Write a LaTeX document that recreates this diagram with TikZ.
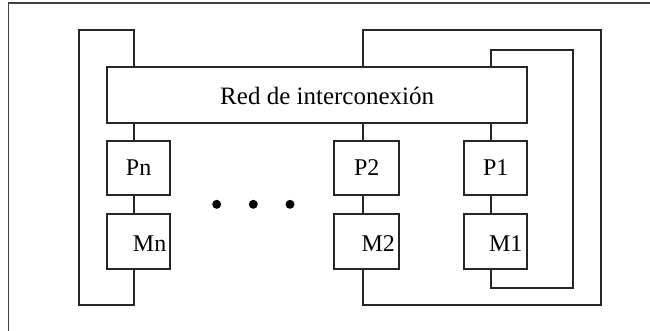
\documentclass[tikz,border=0pt]{standalone}
\usepackage{fontspec}
\setmainfont{Liberation Serif}
\tikzset{
  wire/.style={line width=1.8pt, draw=black!85},
  unit/.style={draw=black!85, line width=1.8pt, rectangle, inner sep=0pt, outer sep=0pt,
               font=\fontsize{24}{28}\selectfont},
  memlabel/.style={font=\fontsize{24}{28}\selectfont, inner sep=0pt, yshift=-2pt},
  dotmark/.style={circle, fill=black, inner sep=0pt, minimum size=9pt},
  frameline/.style={line width=1.6pt, draw=black!75}
}
\begin{document}
\begin{tikzpicture}[x=1pt, y=-1pt]
  \useasboundingbox (0,0) rectangle (650,331);
  % page frame (left and top edges)
  \coordinate (fbl) at (8.5,331);
  \coordinate (ftl) at (8.5,3.3);
  \coordinate (ftr) at (650,3.3);
  \draw[frameline] (fbl) -- (ftl) -- (ftr);

  % interconnection network
  \node[unit, anchor=north west, minimum width=420.3pt, minimum height=55.7pt,
        label={[xshift=10pt, yshift=-1pt, inner sep=0pt, font=\fontsize{25}{30}\selectfont]center:Red de interconexión}]
        (red) at (107,67) {};

  % processors
  \node[unit, anchor=north west, minimum width=63.3pt, minimum height=54pt] (pn) at (107,140.7) {Pn};
  \node[unit, anchor=north west, minimum width=65pt,   minimum height=54pt] (p2) at (334.3,140.7) {P2};
  \node[unit, anchor=north west, minimum width=63pt,   minimum height=54pt] (p1) at (464.3,140.7) {P1};

  % memories
  \node[unit, anchor=north west, minimum width=63.3pt, minimum height=54.7pt,
        label={[memlabel, xshift=11pt]center:Mn}] (mn) at (107,214) {};
  \node[unit, anchor=north west, minimum width=65pt,   minimum height=54.7pt,
        label={[memlabel, xshift=11.5pt]center:M2}] (m2) at (334.3,214) {};
  \node[unit, anchor=north west, minimum width=63pt,   minimum height=54.7pt,
        label={[memlabel, xshift=10pt]center:M1}] (m1) at (464.3,214) {};

  % ellipsis between the columns
  \node[dotmark] (d1) at (216.7,204.3) {};
  \node[dotmark] (d2) at (253.3,204.3) {};
  \node[dotmark] (d3) at (290,204.3) {};

  % wire columns
  \coordinate (cn) at (133.7,0);
  \coordinate (c2) at (362.7,0);
  \coordinate (c1) at (490.7,0);

  % vertical links network - processor - memory
  \draw[wire] (cn |- red.south) -- (cn |- pn.north);
  \draw[wire] (cn |- pn.south) -- (cn |- mn.north);
  \draw[wire] (c2 |- red.south) -- (c2 |- p2.north);
  \draw[wire] (c2 |- p2.south) -- (c2 |- m2.north);
  \draw[wire] (c1 |- red.south) -- (c1 |- p1.north);
  \draw[wire] (c1 |- p1.south) -- (c1 |- m1.north);

  % return loops from memories to the network
  \coordinate (ltop) at (79,30.3);
  \coordinate (lbot) at (79,305.3);
  \draw[wire] (cn |- red.north) |- (ltop) -- (lbot) -| (cn |- mn.south);

  \coordinate (otop) at (600.7,30.3);
  \coordinate (obot) at (600.7,305.3);
  \draw[wire] (c2 |- red.north) |- (otop) -- (obot) -| (c2 |- m2.south);

  \coordinate (itop) at (572.7,49.7);
  \coordinate (ibot) at (572.7,287.7);
  \draw[wire] (c1 |- red.north) |- (itop) -- (ibot) -| (c1 |- m1.south);
\end{tikzpicture}
\end{document}
